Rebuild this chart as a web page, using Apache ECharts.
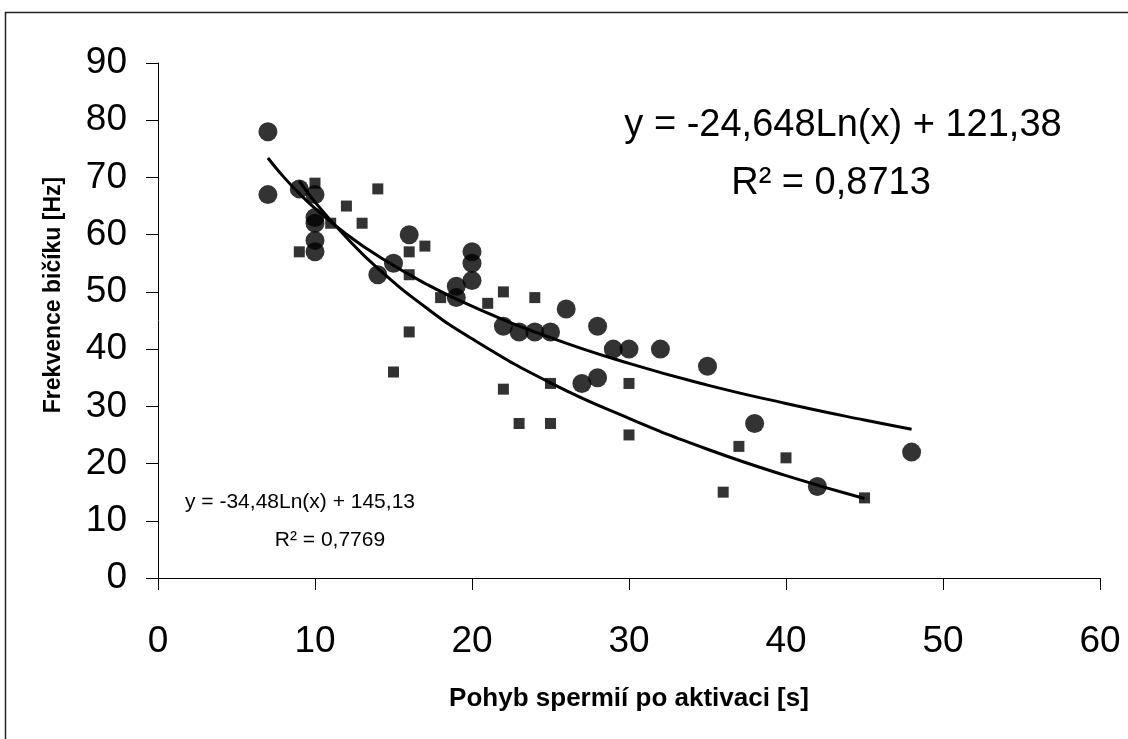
<!DOCTYPE html>
<html>
<head>
<meta charset="utf-8">
<script src="https://cdn.jsdelivr.net/npm/echarts@6/dist/echarts.min.js"></script>
<style>
html,body{margin:0;padding:0;background:#fff;}
#chart{width:1128px;height:739px;}
</style>
</head>
<body>
<div id="chart"></div>
<script>
// ---- data ----
var circleX = [7, 7, 9, 10, 10, 10, 10, 10, 14, 15, 16, 19, 19, 20, 20, 20, 22, 23, 24, 25, 26, 27, 28, 28, 29, 30, 32, 35, 38, 42, 48];
var circleY = [78, 67, 68, 67, 63, 62, 59, 57, 53, 55, 60, 49, 51, 57, 55, 52, 44, 43, 43, 43, 47, 34, 35, 44, 40, 40, 40, 37, 27, 16, 22];

var squareX = [9, 10, 11, 12, 13, 14, 15, 16, 16, 16, 17, 18, 21, 22, 22, 23, 24, 25, 25, 30, 30, 36, 37, 40, 45];
var squareY = [57, 69, 62, 65, 62, 68, 36, 57, 53, 43, 58, 49, 48, 50, 33, 27, 49, 34, 27, 34, 25, 15, 23, 21, 14];

// trend lines
var trendCircleX = [7, 8, 9, 10, 12, 14, 17, 20, 25, 30, 35, 40, 45, 48];
var trendCircleY = [73.4, 70.1, 67.2, 64.6, 60.1, 56.3, 51.5, 47.5, 42.0, 37.5, 33.7, 30.5, 27.6, 26.0];
var trendSquareX = [9, 10, 12, 14, 17, 20, 25, 30, 35, 40, 45];
var trendSquareY = [69.4, 65.7, 59.5, 54.1, 47.4, 41.8, 34.1, 27.9, 22.5, 17.9, 13.9];

var xTicks = [0, 10, 20, 30, 40, 50, 60];
var yTicks = [0, 10, 20, 30, 40, 50, 60, 70, 80, 90];

var xTitle = 'Pohyb spermií po aktivaci [s]';
var yTitle = 'Frekvence bičíku [Hz]';
var eqCircle = ['y = -24,648Ln(x) + 121,38', 'R² = 0,8713'];
var eqSquare = ['y = -34,48Ln(x) + 145,13', 'R² = 0,7769'];

function pairs(xs, ys) { return xs.map(function (x, i) { return [x, ys[i]]; }); }

var FONT = '"Liberation Sans", Arial, sans-serif';
var chart = echarts.init(document.getElementById('chart'), null, {renderer: 'canvas'});
chart.setOption({
  animation: false,
  backgroundColor: '#fff',
  grid: {left: 158, top: 63, right: 28, bottom: 161, containLabel: false},
  xAxis: {
    type: 'value', min: xTicks[0], max: xTicks[xTicks.length - 1], interval: 10,
    axisLine: {show: true, onZero: false, lineStyle: {color: '#000', width: 1}},
    axisTick: {show: true, inside: false, length: 12, lineStyle: {color: '#000'}},
    axisLabel: {color: '#000', fontFamily: FONT, fontSize: 37, margin: 45},
    splitLine: {show: false},
    name: xTitle, nameLocation: 'middle', nameGap: 108,
    nameTextStyle: {color: '#000', fontFamily: FONT, fontSize: 26, fontWeight: 'bold'}
  },
  yAxis: {
    type: 'value', min: yTicks[0], max: yTicks[yTicks.length - 1], interval: 10,
    axisLine: {show: true, onZero: false, lineStyle: {color: '#000', width: 1}},
    axisTick: {show: true, inside: false, length: 12, lineStyle: {color: '#000'}},
    axisLabel: {color: '#000', fontFamily: FONT, fontSize: 37, margin: 31},
    splitLine: {show: false}
  },
  graphic: [
    {type: 'rect', shape: {x: 5.5, y: 12.5, width: 1140, height: 760}, style: {fill: 'none', stroke: '#222', lineWidth: 1.5}, silent: true},
    {type: 'text', x: 54, y: 295, rotation: Math.PI / 2, style: {text: yTitle, fill: '#000', font: 'bold 23px ' + FONT, textAlign: 'center', textVerticalAlign: 'middle'}},
    {type: 'text', x: 843, y: 126, style: {text: eqCircle[0], fill: '#000', font: '38px ' + FONT, textAlign: 'center', textVerticalAlign: 'middle'}},
    {type: 'text', x: 831, y: 184, style: {text: eqCircle[1], fill: '#000', font: '38px ' + FONT, textAlign: 'center', textVerticalAlign: 'middle'}},
    {type: 'text', x: 300, y: 502, style: {text: eqSquare[0], fill: '#000', font: '21px ' + FONT, textAlign: 'center', textVerticalAlign: 'middle'}},
    {type: 'text', x: 330, y: 540, style: {text: eqSquare[1], fill: '#000', font: '21px ' + FONT, textAlign: 'center', textVerticalAlign: 'middle'}}
  ],
  series: [
    {type: 'scatter', data: pairs(squareX, squareY), symbol: 'rect', symbolSize: 11, itemStyle: {color: '#000'}, z: 3},
    {type: 'scatter', data: pairs(circleX, circleY), symbol: 'circle', symbolSize: 19, itemStyle: {color: '#000'}, z: 3},
    {type: 'line', data: pairs(trendCircleX, trendCircleY), smooth: true, showSymbol: false, lineStyle: {color: '#000', width: 3}, z: 4},
    {type: 'line', data: pairs(trendSquareX, trendSquareY), smooth: true, showSymbol: false, lineStyle: {color: '#000', width: 3}, z: 4}
  ]
});
</script>
</body>
</html>
